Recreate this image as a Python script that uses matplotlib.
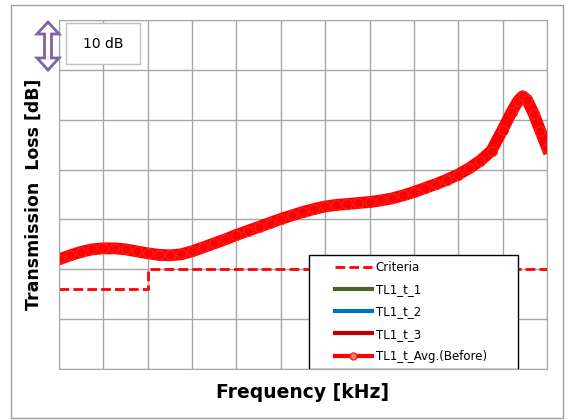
import numpy as np
import matplotlib.pyplot as plt
from matplotlib.patches import Rectangle, Polygon

# frequency axis in grid units (no tick labels on the chart)
freq = [0.0, 0.25, 0.5, 0.75, 1.0, 1.25, 1.5, 1.75, 2.0, 2.25, 2.5, 2.75,
        3.0, 3.25, 3.5, 3.75, 4.0, 4.25, 4.5, 4.75, 5.0, 5.25, 5.5, 5.75,
        6.0, 6.25, 6.5, 6.75, 7.0, 7.25, 7.5, 7.75, 8.0, 8.25, 8.5, 8.75,
        9.0, 9.25, 9.5, 9.75, 10.0, 10.2, 10.35, 10.45, 10.55, 10.7, 10.85, 11.0]

# transmission loss, in units of 10 dB
tl_avg = [2.20, 2.28, 2.35, 2.40, 2.42, 2.42, 2.40, 2.36, 2.32, 2.29, 2.28, 2.30,
          2.36, 2.44, 2.52, 2.60, 2.69, 2.77, 2.85, 2.93, 3.01, 3.08, 3.15, 3.21,
          3.26, 3.29, 3.31, 3.33, 3.35, 3.38, 3.42, 3.48, 3.55, 3.63, 3.71, 3.80,
          3.90, 4.03, 4.18, 4.38, 4.80, 5.15, 5.38, 5.47, 5.40, 5.12, 4.78, 4.44]
tl_1 = [2.20, 2.28, 2.35, 2.40, 2.42, 2.42, 2.40, 2.36, 2.32, 2.29, 2.28, 2.30,
        2.36, 2.44, 2.52, 2.60, 2.69, 2.77, 2.85, 2.93, 3.01, 3.08, 3.15, 3.21,
        3.25, 3.28, 3.30, 3.32, 3.34, 3.36, 3.40, 3.45, 3.52, 3.60, 3.68, 3.77,
        3.87, 3.99, 4.13, 4.32, 4.72, 5.08, 5.32, 5.43, 5.38, 5.10, 4.76, 4.42]
tl_2 = [2.20, 2.28, 2.35, 2.40, 2.42, 2.42, 2.40, 2.36, 2.32, 2.29, 2.28, 2.30,
        2.36, 2.44, 2.52, 2.60, 2.69, 2.77, 2.85, 2.93, 3.01, 3.08, 3.15, 3.21,
        3.26, 3.29, 3.31, 3.33, 3.35, 3.38, 3.42, 3.48, 3.55, 3.63, 3.72, 3.81,
        3.91, 4.04, 4.19, 4.40, 4.83, 5.18, 5.42, 5.50, 5.42, 5.13, 4.79, 4.45]
tl_3 = [2.20, 2.28, 2.35, 2.40, 2.42, 2.42, 2.40, 2.36, 2.32, 2.29, 2.28, 2.30,
        2.36, 2.44, 2.52, 2.60, 2.69, 2.77, 2.85, 2.93, 3.01, 3.08, 3.15, 3.21,
        3.26, 3.29, 3.31, 3.33, 3.35, 3.38, 3.42, 3.48, 3.55, 3.63, 3.71, 3.80,
        3.90, 4.03, 4.18, 4.38, 4.80, 5.15, 5.38, 5.47, 5.40, 5.12, 4.78, 4.44]

# criteria step line
crit_freq = [0.0, 2.0, 2.0, 11.0]
crit_tl = [1.6, 1.6, 2.0, 2.0]

fig = plt.figure(figsize=(5.66, 4.2), dpi=100)
ax = fig.add_axes([59/566, 51/420, 488/566, 349/420])

ax.set_xlim(0, 11)
ax.set_ylim(0, 7)
ax.set_xticks(np.arange(0, 12, 1))
ax.set_yticks(np.arange(0, 8, 1))
ax.tick_params(length=0, labelbottom=False, labelleft=False)
ax.grid(True, color='#a6a6a6', lw=1)
for s in ax.spines.values():
    s.set_color('#a6a6a6')

ax.plot(crit_freq, crit_tl, color='#ff0000', ls=(0, (3.5, 1.5)), lw=2, label='Criteria')
ax.plot(freq, tl_1, color='#4f6228', lw=3, label='TL1_t_1')
ax.plot(freq, tl_2, color='#0070c0', lw=3, label='TL1_t_2')
ax.plot(freq, tl_3, color='#c00000', lw=3, label='TL1_t_3')
ax.plot(freq, tl_avg, color='#ff0000', lw=8.5, marker='o', ms=7,
        mfc='#ff0000', mec='#ff1a1a', mew=1, label='TL1_t_Avg.(Before)')

# legend box, drawn separately so the entries can sit inset
ax.add_patch(Rectangle((250/488, 0), 209/488, 114/349, transform=ax.transAxes,
                       facecolor='white', edgecolor='#000000', lw=1, zorder=4))
leg = ax.legend(loc='upper left', bbox_to_anchor=(276/488, 108/349),
                fontsize=8.5, frameon=False, handlelength=3.1,
                borderpad=0, labelspacing=0.78, borderaxespad=0,
                handletextpad=0.35)
leg.set_zorder(5)
for h in leg.get_lines():
    h.set_linewidth(3)
    h.set_markersize(5)
leg.get_lines()[0].set_linewidth(2)
leg.get_lines()[4].set_markerfacecolor('#ff8080')

ax.set_ylabel('Transmission  Loss [dB]', fontsize=12.5, fontweight='bold', labelpad=12)
ax.set_xlabel('Frequency [kHz]', fontsize=13.5, fontweight='bold', labelpad=10)

# scale box
ax.add_patch(Rectangle((7/488, (369-64)/349), 74/488, 41/349, transform=ax.transAxes,
                       facecolor='white', edgecolor='#bfbfbf', lw=1, zorder=5))
ax.text(44/488, (369-44)/349, '10 dB', transform=ax.transAxes, ha='center',
        va='center', fontsize=10, zorder=6)

# hollow double arrow
pts = [(48, 22), (59, 34), (51.5, 34), (51.5, 58), (59, 58), (48, 70),
       (37, 58), (44.5, 58), (44.5, 34), (37, 34)]
pts = [(x/566, (420-y)/420) for x, y in pts]
fig.add_artist(Polygon(pts, closed=True, transform=fig.transFigure,
                       facecolor='white', edgecolor='#8064a2', lw=2))

# outer frame
fig.add_artist(Rectangle((11/566, 2/420), 552/566, 413/420, transform=fig.transFigure,
                         fill=False, edgecolor='#a0a0a0', lw=1))

fig.savefig('out.png', dpi=100)
